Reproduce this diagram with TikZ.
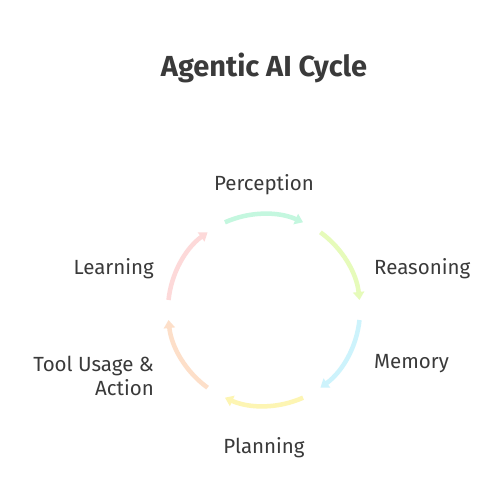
\documentclass[tikz,border=0pt]{standalone}
\usepackage{fontspec}
\setmainfont{Fira Sans}
\usetikzlibrary{arrows.meta,calc}
\definecolor{txt}{HTML}{3A3A3A}
\definecolor{cA}{HTML}{C4F7DF}
\definecolor{cB}{HTML}{E6FBBA}
\definecolor{cC}{HTML}{CDF3FC}
\definecolor{cD}{HTML}{FDF5B3}
\definecolor{cE}{HTML}{FDDFC9}
\definecolor{cF}{HTML}{FDD9D9}
\tikzset{
  lbl/.style={text=txt, font=\fontsize{20.5}{24}\selectfont, inner sep=0pt},
  ttl/.style={text=txt, font=\fontsize{29}{34}\selectfont\bfseries, inner sep=0pt},
  cyc/.style={line width=4.5pt, -{Triangle[length=8pt,width=11pt]}}
}
\begin{document}
\begin{tikzpicture}[x=1pt,y=1pt]
\useasboundingbox (0,0) rectangle (504,504);
\fill[white] (0,0) rectangle (504,504);
\coordinate (c) at (264,194);
\def\R{96}
\node[ttl] (title) at (264,436) {Agentic AI Cycle};
\node[lbl] (per) at (264,319) {Perception};
\node[lbl, anchor=west] (rea) at (374,235) {Reasoning};
\node[lbl, anchor=west] (mem) at (374,140) {Memory};
\node[lbl] (pla) at (264,56) {Planning};
\node[lbl, anchor=east, align=right] (too) at (154,128) {Tool Usage \&\\Action};
\node[lbl, anchor=east] (lea) at (154,235) {Learning};
\coordinate (a1) at ($(c)+(114:\R)$);
\coordinate (a2) at ($(c)+(54:\R)$);
\coordinate (a3) at ($(c)+(-6:\R)$);
\coordinate (a4) at ($(c)+(-66:\R)$);
\coordinate (a5) at ($(c)+(-126:\R)$);
\coordinate (a6) at ($(c)+(174:\R)$);
\draw[cyc, cA] (a1) arc[start angle=114, end angle=66, radius=\R];
\draw[cyc, cB] (a2) arc[start angle=54, end angle=6, radius=\R];
\draw[cyc, cC] (a3) arc[start angle=-6, end angle=-54, radius=\R];
\draw[cyc, cD] (a4) arc[start angle=-66, end angle=-114, radius=\R];
\draw[cyc, cE] (a5) arc[start angle=-126, end angle=-174, radius=\R];
\draw[cyc, cF] (a6) arc[start angle=174, end angle=126, radius=\R];
\end{tikzpicture}
\end{document}
